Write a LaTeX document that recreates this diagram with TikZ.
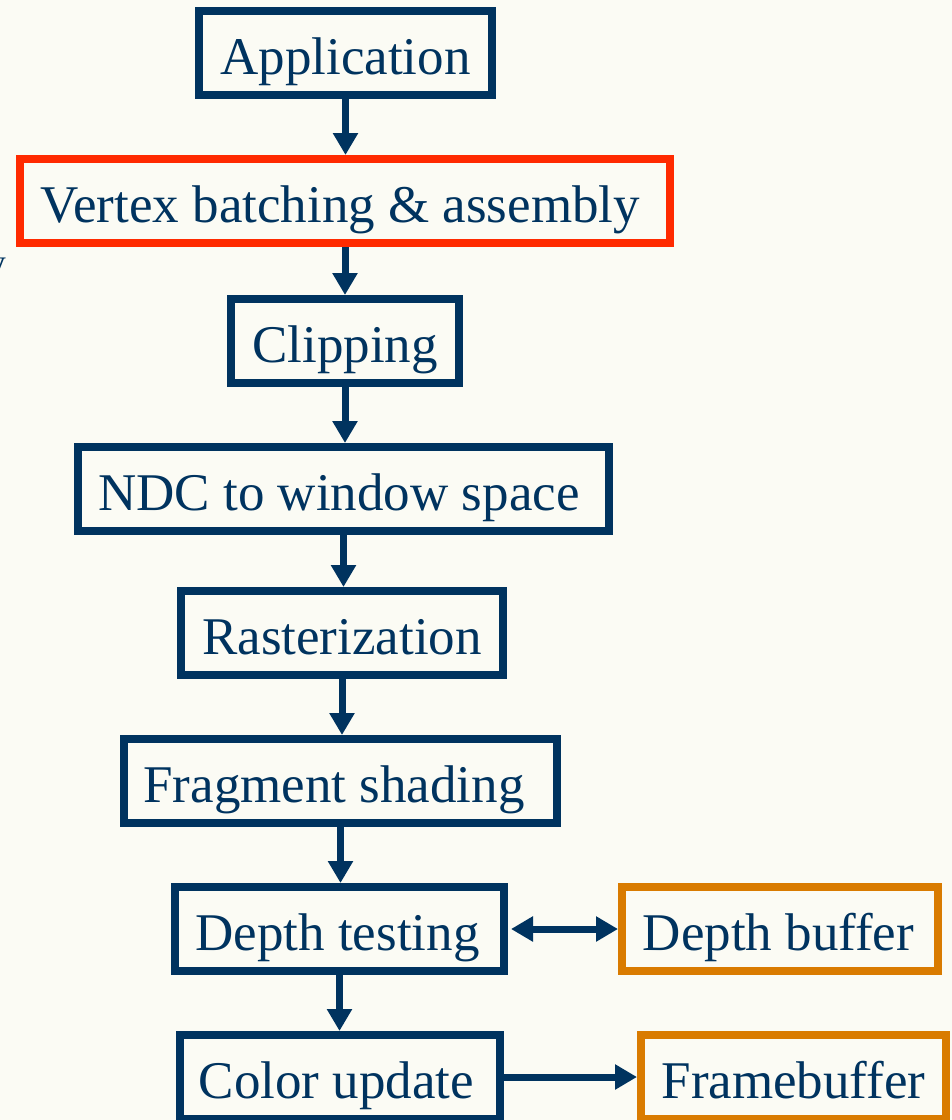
\documentclass[tikz,border=0pt]{standalone}
\usepackage{fontspec}
\setmainfont{Liberation Serif}
\usetikzlibrary{arrows.meta}
\definecolor{navy}{HTML}{00335F}
\definecolor{alertred}{HTML}{FF2A00}
\definecolor{bufferorange}{HTML}{D97B00}
\definecolor{paper}{HTML}{FBFBF4}
\begin{document}
\begin{tikzpicture}[x=1pt,y=-1pt,
  stage/.style={draw=navy, line width=8pt, text=navy,
    font=\fontsize{53}{60}\selectfont, inner sep=0pt,
    minimum height=84pt, text height=43pt, text depth=0pt},
  hot/.style={stage, draw=alertred},
  store/.style={stage, draw=bufferorange},
  flow/.style={draw=navy, line width=7pt, -{Triangle[length=22pt,width=24pt]}},
  both/.style={draw=navy, line width=7pt,
    {Triangle[length=22pt,width=24pt]}-{Triangle[length=22pt,width=24pt]}}]
  % page
  \fill[paper] (0,0) rectangle (952,1120);
  \useasboundingbox (0,0) rectangle (952,1120);

  % stray glyph at the left margin
  \node[anchor=base east, inner sep=0pt, text=navy,
        font=\fontsize{36}{40}\selectfont] (margin) at (6,274) {y};

  % pipeline stages
  \node[stage, minimum width=293pt] (app)   at (345.5,53)  {Application};
  \node[hot,   minimum width=650pt] (vert)  at (345,201)   {Vertex batching \& assembly\hspace*{9pt}};
  \node[stage, minimum width=228pt] (clip)  at (345,341)   {Clipping};
  \node[stage, minimum width=531pt] (ndc)   at (343.5,489) {NDC to window space\hspace*{9pt}};
  \node[stage, minimum width=322pt] (rast)  at (342,633)   {Rasterization};
  \node[stage, minimum width=433pt] (frag)  at (340.5,781) {Fragment shading\hspace*{13pt}};
  \node[stage, minimum width=329pt] (depth) at (339.5,929) {Depth testing\hspace*{4pt}};
  \node[stage, minimum width=320pt] (color) at (340,1077)  {Color update\hspace*{7pt}};

  % buffers
  \node[store, minimum width=316pt] (dbuf)  at (780,929)   {Depth buffer\hspace*{3pt}};
  \node[store, minimum width=305pt] (fbuf)  at (793.5,1077){Framebuffer};

  % connectors
  \draw[flow] (app.south)   -- (app.south   |- vert.north);
  \draw[flow] (vert.south)  -- (vert.south  |- clip.north);
  \draw[flow] (clip.south)  -- (clip.south  |- ndc.north);
  \draw[flow] (ndc.south)   -- (ndc.south   |- rast.north);
  \draw[flow] (rast.south)  -- (rast.south  |- frag.north);
  \draw[flow] (frag.south)  -- (frag.south  |- depth.north);
  \draw[flow] (depth.south) -- (depth.south |- color.north);
  \draw[both] ([xshift=3pt]depth.east) -- (dbuf.west);
  \draw[flow] (color.east)  -- (fbuf.west);
\end{tikzpicture}
\end{document}
